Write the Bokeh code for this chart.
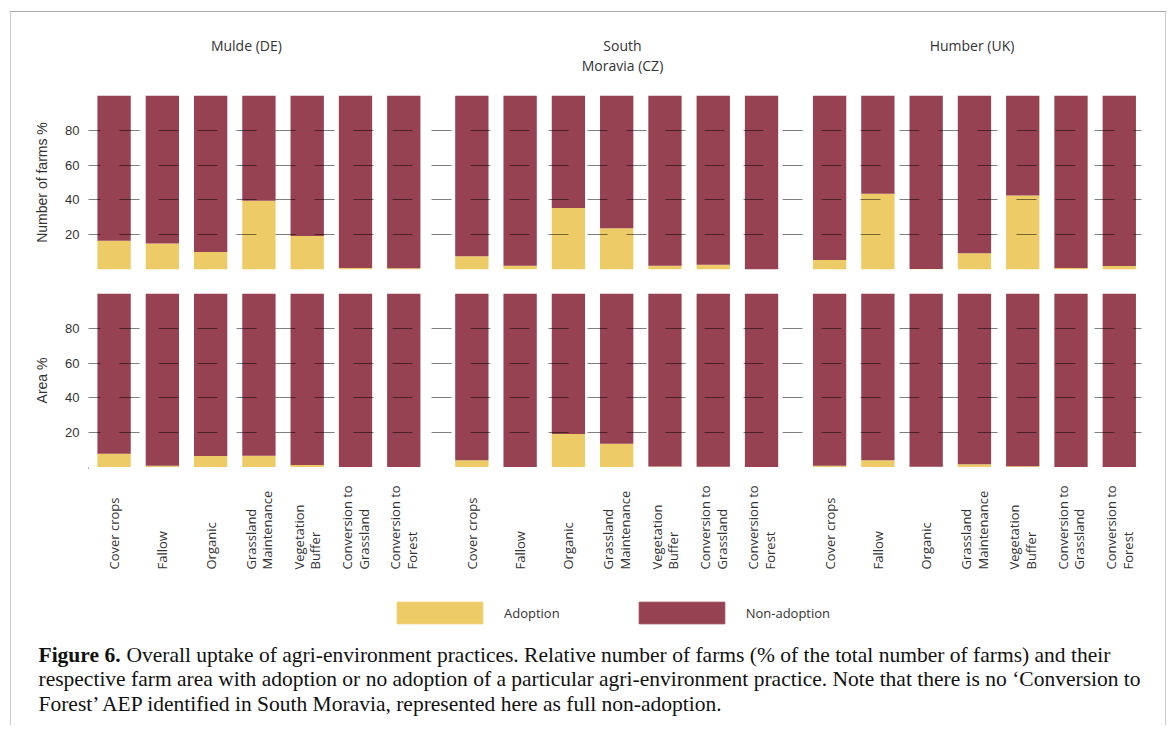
import math
from bokeh.plotting import figure
from bokeh.models import (ColumnDataSource, Range1d, FixedTicker, Legend, LegendItem)
from bokeh.core.properties import value
from bokeh.layouts import column
from bokeh.embed import file_html
from bokeh.resources import INLINE

# ---------------- data ----------------
regions = ["Mulde (DE)", "South\nMoravia (CZ)", "Humber (UK)"]
practices = ["Cover crops", "Fallow", "Organic", "Grassland\nMaintenance",
             "Vegetation\nBuffer", "Conversion to\nGrassland", "Conversion to\nForest"]
series = ["Adoption", "Non-adoption"]
y_ticks = [20, 40, 60, 80]

# % of farms adopting each practice
farms_mulde = [16.5, 15.0, 10.0, 39.5, 19.3, 0.9, 0.7]
farms_moravia = [7.6, 2.2, 35.3, 23.7, 2.2, 2.8, 0.0]
farms_humber = [5.5, 43.5, 0.3, 9.3, 42.5, 0.9, 2.0]
# % of farm area under adoption
area_mulde = [7.9, 1.0, 6.6, 6.8, 1.5, 0.0, 0.0]
area_moravia = [4.2, 0.0, 19.3, 13.7, 0.6, 0.5, 0.0]
area_humber = [1.0, 4.2, 0.4, 1.8, 0.7, 0.0, 0.0]

caption_bold = "Figure 6."
caption_lines = [
    "Overall uptake of agri-environment practices. Relative number of farms (% of the total number of farms) and their",
    "respective farm area with adoption or no adoption of a particular agri-environment practice. Note that there is no \u2018Conversion to",
    "Forest\u2019 AEP identified in South Moravia, represented here as full non-adoption.",
]

# ---------------- style / layout ----------------
YELLOW = "#EDCB66"
MAROON = "#964252"
TXT = "#333333"
GROUP_STEP = 7.41
BAR_W = 0.69
W = 1170
LEFT, RIGHT = 88, 29

xs = [g * GROUP_STEP + i for g in range(len(regions)) for i in range(len(practices))]
labels = practices * len(regions)


def make_source(groups):
    adopt = [v for grp in groups for v in grp]
    non = [100 - v for v in adopt]
    return ColumnDataSource(dict(x=xs, Adoption=adopt, **{"Non-adoption": non}, label=labels))


src_farms = make_source([farms_mulde, farms_moravia, farms_humber])
src_area = make_source([area_mulde, area_moravia, area_humber])

x_range = Range1d(-0.53, 2 * GROUP_STEP + 6 + 0.46)


def clear(p):
    p.border_fill_color = None
    p.background_fill_color = None
    p.outline_line_color = None


def blank(height, yr, xr=x_range, left=LEFT, right=RIGHT):
    p = figure(width=W, height=height, x_range=xr, y_range=yr, output_backend="svg",
               toolbar_location=None, x_axis_location=None, y_axis_location=None,
               min_border_left=left, min_border_right=right, min_border_top=0,
               min_border_bottom=0)
    clear(p)
    p.grid.visible = False
    return p


def panel(src, ylabel, height, top, bottom):
    p = figure(width=W, height=height, x_range=x_range, y_range=Range1d(0, 100),
               output_backend="svg", toolbar_location=None, x_axis_location=None,
               min_border_left=LEFT, min_border_right=RIGHT, min_border_top=top,
               min_border_bottom=bottom)
    p.vbar_stack(series, x="x", width=BAR_W, color=[YELLOW, MAROON], line_color=None,
                 source=src)
    clear(p)
    p.xgrid.visible = False
    ax = p.yaxis[0]
    ax.ticker = FixedTicker(ticks=y_ticks)
    ax.axis_line_color = None
    ax.major_tick_line_color = None
    ax.minor_tick_line_color = None
    ax.major_tick_out = 0
    ax.major_tick_in = 0
    ax.major_label_standoff = 9
    ax.major_label_text_font = "Liberation Sans"
    ax.major_label_text_font_size = "13px"
    ax.major_label_text_color = TXT
    ax.axis_label = ylabel
    ax.axis_label_text_font = "Liberation Sans"
    ax.axis_label_text_font_size = "14px"
    ax.axis_label_text_font_style = "normal"
    ax.axis_label_text_color = TXT
    ax.axis_label_standoff = 12
    g = p.ygrid[0]
    g.ticker = FixedTicker(ticks=y_ticks)
    g.grid_line_color = "black"
    g.grid_line_alpha = 0.5
    g.grid_line_width = 1.2
    g.grid_line_dash = "20 19"
    g.grid_line_dash_offset = 8
    g.level = "overlay"
    return p


# titles strip (y in pixels from its top)
pT = blank(95, Range1d(95, 0))
title_offsets = [-0.26, 0.12, -0.05]
title_src = ColumnDataSource(dict(
    x=[g * GROUP_STEP + 3 + title_offsets[g] for g in range(len(regions))],
    y=[35] * len(regions), text=regions))
pT.text(x="x", y="y", text="text", source=title_src, text_align="center",
        text_baseline="top", text_font=value("Open Sans"), text_font_size="14px",
        text_line_height=1.1, text_color=TXT)

pA = panel(src_farms, "Number of farms %", 186, 0, 12)
pB = panel(src_area, "Area %", 186, 12, 0)

# practice labels + legend strip (y in pixels from its top)
pX = blank(173, Range1d(173, 0))
pX.text(x="x", y=102, text="label", source=src_area, angle=math.pi / 2,
        text_align="left", text_baseline="middle", text_font=value("Open Sans"),
        text_font_size="13px", text_line_height=0.92, text_color=TXT)
r1 = pX.vbar(x=[-100], top=[1], width=1, color=YELLOW)
r2 = pX.vbar(x=[-100], top=[1], width=1, color=MAROON)
leg = Legend(items=[LegendItem(label=series[0], renderers=[r1]),
                    LegendItem(label=series[1], renderers=[r2])],
             orientation="horizontal", location=(298, 14), glyph_width=107,
             glyph_height=27, label_standoff=11, spacing=68, padding=0, margin=0,
             border_line_color=None, background_fill_alpha=0, label_text_font="Open Sans",
             label_text_font_size="13px", label_text_color=TXT, label_height=21)
pX.add_layout(leg)

# caption strip (x, y in page pixels)
pC = blank(85, Range1d(85, 0), xr=Range1d(0, W), left=0, right=0)
cap_font = value("Liberation Serif")
pC.text(x=[38], y=[14], text=[caption_bold], text_font=cap_font, text_font_size="21.5px",
        text_font_style="bold", text_color="#111111", text_baseline="alphabetic")
pC.text(x=[126, 38, 38], y=[14, 38.5, 63], text=caption_lines, text_font=cap_font,
        text_font_size="21.5px", text_color="#111111", text_baseline="alphabetic")

frame_lines = ("linear-gradient(#ababab,#ababab) 10px 11px / 1156px 1px no-repeat, "
               "linear-gradient(#cacaca,#cacaca) 10px 11px / 1px 900px no-repeat, "
               "linear-gradient(#cacaca,#cacaca) 1165px 11px / 1px 900px no-repeat, #ffffff")
layout = column(column(pT, pA, pB, pX, spacing=0), pC, spacing=0,
                styles={"background": frame_lines})
open("out.html", "w").write(file_html(layout, INLINE))
